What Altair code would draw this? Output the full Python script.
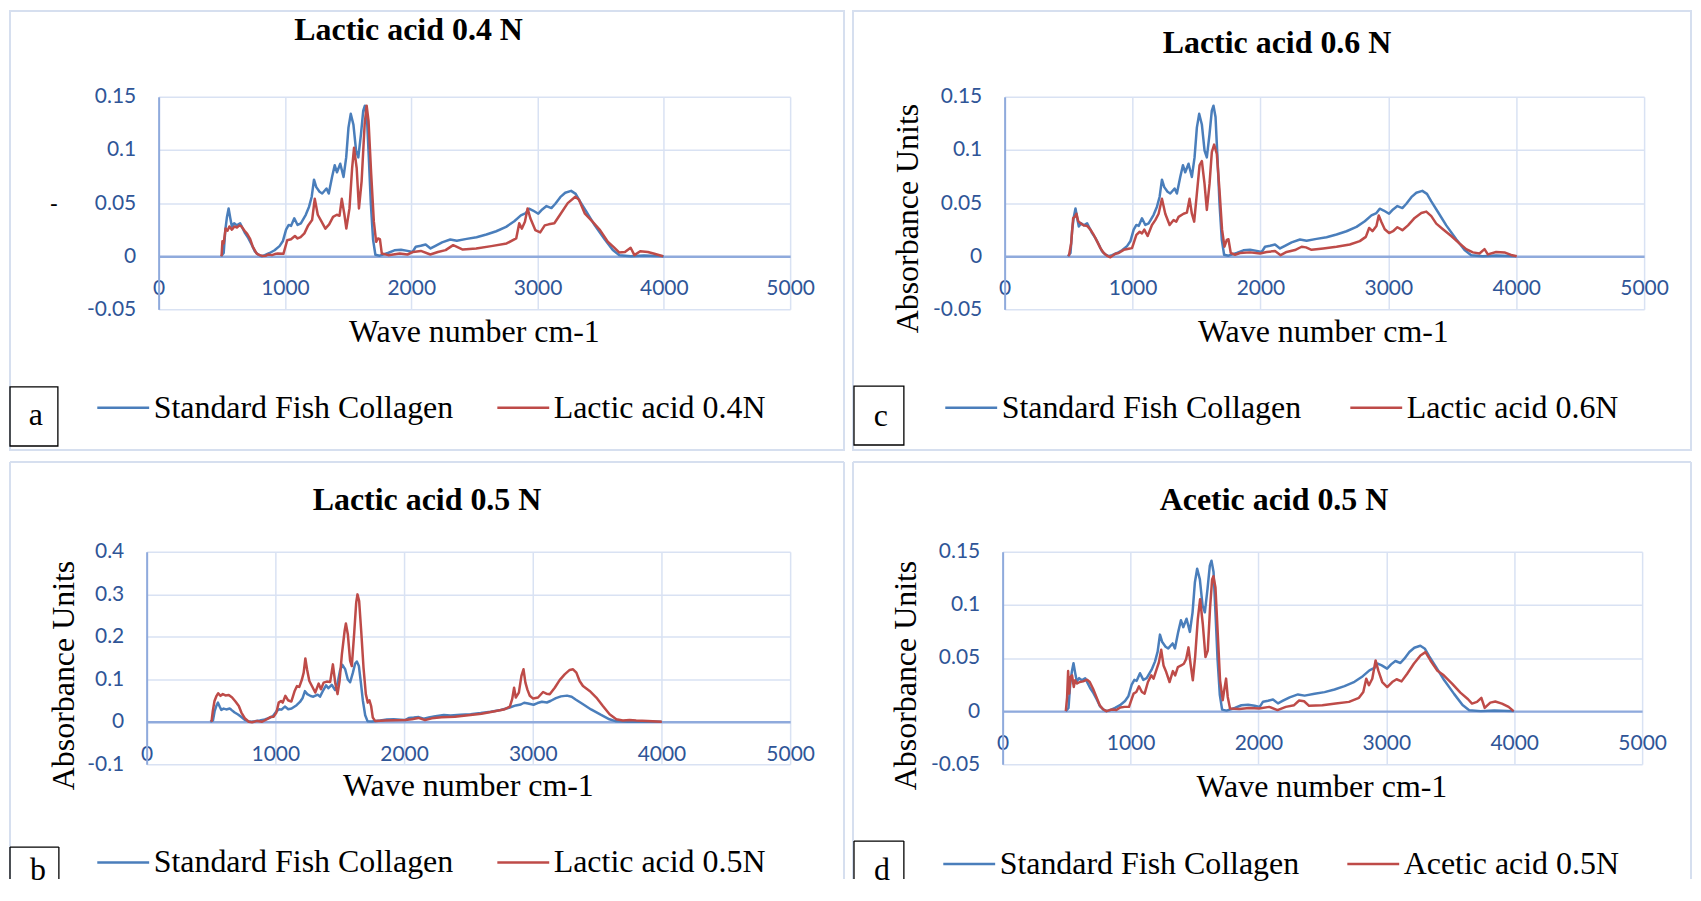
import altair as alt
import pandas as pd

# ---------------- data ----------------
STD_LABEL = "Standard Fish Collagen"

STD_WN = [494, 515, 528, 541, 554, 567, 580, 598, 619, 645,
          658, 684, 710, 736, 762, 788, 814, 840, 879, 918,
          957, 983, 1009, 1030, 1048, 1074, 1100, 1126, 1165, 1191,
          1212, 1230, 1248, 1274, 1295, 1329, 1347, 1373, 1394, 1412,
          1438, 1464, 1485, 1503, 1521, 1542, 1563, 1581, 1602, 1620,
          1633, 1649, 1664, 1680, 1698, 1716, 1750, 1815, 1867, 1919,
          1971, 2010, 2036, 2075, 2114, 2153, 2192, 2244, 2309, 2361,
          2439, 2517, 2595, 2673, 2751, 2816, 2868, 2907, 2933, 2964,
          3006, 3037, 3071, 3110, 3141, 3180, 3219, 3266, 3302, 3336,
          3388, 3453, 3531, 3596, 3648, 3739, 3843, 3999]
STD_AB = [0.0, 0.003, 0.0248, 0.037, 0.045, 0.036, 0.028, 0.031, 0.029, 0.031,
          0.028, 0.0217, 0.017, 0.011, 0.0045, 0.0014, 0.0, 0.001, 0.003, 0.0056,
          0.0095, 0.014, 0.025, 0.0294, 0.0285, 0.0357, 0.0294, 0.031, 0.039, 0.0466,
          0.056, 0.072, 0.065, 0.0606, 0.059, 0.0637, 0.059, 0.0746, 0.0856, 0.079,
          0.087, 0.0746, 0.093, 0.121, 0.134, 0.124, 0.0995, 0.093, 0.115, 0.137,
          0.1416, 0.131, 0.093, 0.0497, 0.0154, 0.0014, 0.0005, 0.003, 0.0055, 0.006,
          0.005, 0.004, 0.0089, 0.0098, 0.011, 0.0073, 0.0098, 0.013, 0.0157, 0.0146,
          0.0163, 0.0179, 0.0204, 0.0235, 0.0276, 0.0329, 0.0384, 0.0406, 0.0447, 0.043,
          0.040, 0.044, 0.0472, 0.0453, 0.0494, 0.0556, 0.0597, 0.0615, 0.0587, 0.0516,
          0.0416, 0.029, 0.016, 0.0058, 0.0009, 0.0, 0.0006, 0.0]

# Lactic acid 0.4N (panel a)
RA_WN = [498, 505, 515, 530, 545, 560, 580, 600, 620, 640,
         656, 680, 701, 725, 746, 776, 800, 822, 850, 867,
         897, 920, 943, 988, 1018, 1048, 1079, 1100, 1124, 1154,
         1184, 1215, 1236, 1260, 1290, 1320, 1350, 1381, 1411, 1432,
         1450, 1471, 1486, 1511, 1532, 1547, 1568, 1586, 1607, 1631,
         1647, 1662, 1683, 1704, 1722, 1737, 1752, 1767, 1819, 1909,
         1970, 2015, 2076, 2151, 2211, 2272, 2332, 2362, 2408, 2514,
         2634, 2755, 2831, 2855, 2876, 2900, 2921, 2943, 2982, 3021,
         3057, 3088, 3133, 3178, 3239, 3299, 3329, 3375, 3435, 3495,
         3556, 3601, 3646, 3692, 3737, 3767, 3813, 3873, 3918, 3994]
RA_AB = [0.0, 0.014, 0.012, 0.026, 0.024, 0.028, 0.025, 0.028, 0.027, 0.029,
         0.028, 0.024, 0.021, 0.016, 0.0088, 0.0025, 0.001, 0.0003, 0.0005, 0.0016,
         0.001, 0.002, 0.0025, 0.0022, 0.015, 0.016, 0.019, 0.0167, 0.018, 0.0215,
         0.029, 0.034, 0.054, 0.039, 0.0325, 0.026, 0.030, 0.037, 0.039, 0.038,
         0.054, 0.039, 0.026, 0.045, 0.083, 0.102, 0.083, 0.045, 0.0705, 0.124,
         0.1416, 0.127, 0.077, 0.0325, 0.0136, 0.0167, 0.016, 0.0025, 0.001, 0.0025,
         0.0016, 0.004, 0.005, 0.0016, 0.004, 0.0057, 0.0104, 0.0088, 0.0063, 0.0073,
         0.0095, 0.012, 0.0167, 0.031, 0.026, 0.0325, 0.045, 0.0357, 0.0246, 0.0224,
         0.029, 0.030, 0.031, 0.039, 0.050, 0.056, 0.053, 0.040, 0.0325, 0.0246,
         0.0136, 0.0088, 0.0035, 0.004, 0.008, 0.001, 0.0047, 0.004, 0.0025, 0.0]

# Lactic acid 0.6N (panel c)
RC_WN = [502, 520, 536, 549, 562, 575, 593, 619, 645, 671,
         697, 723, 749, 775, 806, 827, 866, 892, 931, 970,
         996, 1030, 1056, 1074, 1092, 1118, 1152, 1178, 1204, 1230,
         1256, 1290, 1321, 1342, 1360, 1399, 1425, 1446, 1464, 1482,
         1503, 1524, 1542, 1563, 1581, 1602, 1620, 1638, 1659, 1680,
         1700, 1719, 1737, 1750, 1768, 1802, 1841, 1919, 1997, 2049,
         2114, 2158, 2205, 2270, 2322, 2356, 2400, 2491, 2595, 2699,
         2777, 2824, 2850, 2876, 2907, 2925, 2946, 2972, 3006, 3037,
         3071, 3110, 3154, 3206, 3258, 3297, 3336, 3375, 3427, 3492,
         3557, 3609, 3661, 3713, 3752, 3778, 3843, 3908, 3960, 4004]
RC_AB = [0.0, 0.012, 0.036, 0.037, 0.040, 0.033, 0.031, 0.029, 0.0285, 0.025,
         0.020, 0.014, 0.0076, 0.003, 0.0, -0.001, 0.0023, 0.003, 0.006, 0.007,
         0.0076, 0.020, 0.023, 0.0215, 0.025, 0.019, 0.0294, 0.034, 0.040, 0.054,
         0.040, 0.0294, 0.034, 0.0325, 0.037, 0.040, 0.041, 0.054, 0.040, 0.0325,
         0.059, 0.0856, 0.0896, 0.068, 0.0435, 0.068, 0.098, 0.105, 0.0964, 0.062,
         0.025, 0.009, 0.0154, 0.016, 0.003, 0.0014, 0.003, 0.0036, 0.0026, 0.004,
         0.0048, 0.001, 0.004, 0.0058, 0.0089, 0.0083, 0.006, 0.0073, 0.0089, 0.011,
         0.0142, 0.0182, 0.0266, 0.0235, 0.0285, 0.0384, 0.0322, 0.0254, 0.0218, 0.0235,
         0.0273, 0.0245, 0.029, 0.036, 0.0406, 0.042, 0.0377, 0.0307, 0.0254, 0.019,
         0.012, 0.0067, 0.0036, 0.0026, 0.0067, 0.0017, 0.004, 0.0036, 0.0012, 0.0]

# Lactic acid 0.5N (panel b)
RB_WN = [504, 514, 527, 543, 556, 574, 592, 612, 638, 664,
         690, 716, 736, 762, 793, 819, 858, 897, 935, 961,
         987, 1008, 1026, 1044, 1057, 1078, 1098, 1124, 1150, 1168,
         1186, 1207, 1220, 1233, 1246, 1264, 1284, 1310, 1336, 1354,
         1375, 1400, 1426, 1447, 1465, 1483, 1499, 1517, 1538, 1548,
         1563, 1581, 1594, 1612, 1628, 1638, 1651, 1667, 1685, 1703,
         1718, 1731, 1744, 1757, 1775, 1853, 1930, 2008, 2060, 2111,
         2163, 2215, 2292, 2395, 2499, 2602, 2705, 2783, 2822, 2840,
         2855, 2868, 2892, 2912, 2928, 2943, 2959, 2977, 3003, 3041,
         3080, 3106, 3132, 3171, 3209, 3248, 3287, 3313, 3339, 3364,
         3390, 3442, 3494, 3545, 3597, 3649, 3700, 3752, 3804, 3894,
         4003]
RB_AB = [0.0, 0.0255, 0.049, 0.061, 0.067, 0.061, 0.065, 0.062, 0.063, 0.057,
         0.0475, 0.037, 0.0216, 0.0083, 0.0, -0.001, 0.002, 0.0, 0.006, 0.011,
         0.012, 0.0216, 0.045, 0.049, 0.045, 0.061, 0.0506, 0.0475, 0.0725, 0.084,
         0.082, 0.100, 0.1156, 0.149, 0.1235, 0.096, 0.084, 0.0687, 0.0898, 0.0765,
         0.092, 0.0945, 0.0937, 0.135, 0.092, 0.065, 0.096, 0.159, 0.2135, 0.231,
         0.206, 0.143, 0.131, 0.206, 0.280, 0.2997, 0.284, 0.2135, 0.127, 0.065,
         0.045, 0.0506, 0.037, 0.0099, 0.002, 0.003, 0.0035, 0.004, 0.006, 0.009,
         0.004, 0.008, 0.0106, 0.012, 0.0154, 0.019, 0.0247, 0.0295, 0.0357, 0.053,
         0.080, 0.057, 0.0686, 0.108, 0.1235, 0.092, 0.075, 0.061, 0.0545, 0.057,
         0.070, 0.066, 0.0647, 0.080, 0.098, 0.1116, 0.122, 0.1235, 0.1156, 0.096,
         0.084, 0.0725, 0.057, 0.037, 0.0177, 0.006, 0.003, 0.004, 0.003, 0.002,
         0.0]

# Acetic acid 0.5N (panel d)
RD_WN = [494, 504, 512, 520, 530, 543, 556, 567, 582, 603,
         629, 660, 681, 707, 733, 759, 785, 811, 837, 863,
         889, 920, 954, 988, 1006, 1024, 1045, 1066, 1089, 1110,
         1136, 1162, 1180, 1201, 1222, 1240, 1258, 1279, 1305, 1331,
         1349, 1370, 1396, 1417, 1435, 1453, 1469, 1487, 1505, 1526,
         1544, 1565, 1586, 1604, 1622, 1638, 1648, 1664, 1682, 1700,
         1721, 1734, 1747, 1760, 1778, 1850, 1928, 2006, 2084, 2149,
         2214, 2279, 2318, 2357, 2396, 2500, 2604, 2708, 2786, 2820,
         2843, 2864, 2890, 2916, 2937, 2968, 3007, 3046, 3080, 3119,
         3163, 3215, 3267, 3306, 3345, 3397, 3449, 3514, 3579, 3639,
         3670, 3709, 3743, 3769, 3813, 3852, 3904, 3956, 3995]
RD_AB = [0.0, 0.013, 0.0377, 0.0165, 0.032, 0.0337, 0.0228, 0.029, 0.026, 0.0274,
         0.028, 0.0296, 0.0274, 0.021, 0.0134, 0.0056, 0.0018, 0.0, 0.001, 0.0015,
         0.001, 0.0034, 0.004, 0.004, 0.0103, 0.0165, 0.018, 0.0234, 0.018, 0.0165,
         0.0274, 0.0337, 0.0306, 0.0384, 0.046, 0.0577, 0.043, 0.0368, 0.0274, 0.0377,
         0.0337, 0.0415, 0.043, 0.0446, 0.049, 0.060, 0.0446, 0.029, 0.0509, 0.0866,
         0.1054, 0.082, 0.0509, 0.057, 0.0976, 0.124, 0.127, 0.1164, 0.0727, 0.029,
         0.0103, 0.021, 0.0306, 0.0134, 0.0025, 0.002, 0.003, 0.0025, 0.004, 0.001,
         0.004, 0.0056, 0.010, 0.0093, 0.005, 0.0056, 0.0071, 0.0087, 0.0125, 0.018,
         0.0305, 0.0243, 0.0305, 0.0477, 0.0383, 0.0274, 0.0227, 0.0274, 0.030, 0.028,
         0.0352, 0.0446, 0.0524, 0.0555, 0.0477, 0.0383, 0.0337, 0.0259, 0.0174, 0.0112,
         0.0071, 0.0087, 0.0125, 0.003, 0.008, 0.009, 0.0071, 0.004, 0.0]

X_TICKS = [0, 1000, 2000, 3000, 4000, 5000]
Y_TICKS_SMALL = [-0.05, 0, 0.05, 0.1, 0.15]
Y_TICKS_LARGE = [-0.1, 0, 0.1, 0.2, 0.3, 0.4]

for a_, b_ in [(STD_WN, STD_AB), (RA_WN, RA_AB), (RC_WN, RC_AB), (RB_WN, RB_AB), (RD_WN, RD_AB)]:
    assert len(a_) == len(b_)

# ---------------- styles ----------------
BLUE = "#4A7EBB"
RED = "#BE4B48"
GRID = "#D9E2F3"
AXIS_LINE = "#8FAADC"
BORDER = "#D6DFEF"
TICK_TXT = "#2F5597"
SERIF = "Liberation Serif"
SANS = "Lato"

# Geometry is relative to each panel's plot area (its top-left corner).
# "shift": the plot area of panel a starts 12 px right of the column origin it
# shares with panel b, so its view is widened and the x range starts at 12 px.
PANELS = {
    "a": dict(title="Lactic acid 0.4 N", label="Lactic acid 0.4N", wn=RA_WN, ab=RA_AB,
              w=633, h=213, shift=12, ydom=(-0.05, 0.15), yt=Y_TICKS_SMALL,
              border=(-149, 687, -86, 354), closed=True,
              box=(-149, -101, 290.7, 350), letter="a", lxy=(-123, 329),
              txy=(250.5, -57), ytitle="-", ytxy=(-105.5, 106), xtxy=(316, 85.5),
              leg=(-63, 284, 38, 3)),
    "c": dict(title="Lactic acid 0.6 N", label="Lactic acid 0.6N", wn=RC_WN, ab=RC_AB,
              w=641, h=213, shift=0, ydom=(-0.05, 0.15), yt=Y_TICKS_SMALL,
              border=(-152, 688, -86, 354), closed=True,
              box=(-151, -101, 290, 349), letter="c", lxy=(-124, 330),
              txy=(273, -43.5), ytitle="Absorbance Units", ytxy=(-87, 121.5), xtxy=(319, 85.5),
              leg=(-61, 284, 43, 3)),
    "b": dict(title="Lactic acid 0.5 N", label="Lactic acid 0.5N", wn=RB_WN, ab=RB_AB,
              w=645, h=213, shift=0, ydom=(-0.1, 0.4), yt=Y_TICKS_LARGE,
              border=(-137, 699, -90, 328), closed=False,
              box=(-137, -88, 296, 328), letter="b", lxy=(-109, 329),
              txy=(281, -42), ytitle="Absorbance Units", ytxy=(-73.5, 123.5), xtxy=(322, 74),
              leg=(-51, 283.7, 38, 3)),
    "d": dict(title="Acetic acid 0.5 N", label="Acetic acid 0.5N", wn=RD_WN, ab=RD_AB,
              w=641, h=213, shift=0, ydom=(-0.05, 0.15), yt=Y_TICKS_SMALL,
              border=(-150, 690, -90, 328), closed=False,
              box=(-149, -99, 290, 328), letter="d", lxy=(-121, 329),
              txy=(272, -42), ytitle="Absorbance Units", ytxy=(-87, 123.5), xtxy=(319.5, 85.5),
              leg=(-61, 285.3, 42, 3)),
}

Y_LABEL_EXPR = "datum.value < 0 ? '-' + format(-datum.value, '~g') : format(datum.value, '~g')"


def frame(df, x1, x2, y1, y2, closed, color, width):
    """Rectangle outline (closed) or open-bottom outline drawn with rules."""
    if closed:
        return [alt.Chart(df).mark_rect(filled=False, stroke=color, strokeWidth=width).encode(
            x=alt.value(x1), x2=alt.value(x2), y=alt.value(y1), y2=alt.value(y2))]
    rule = dict(color=color, strokeWidth=width)
    return [
        alt.Chart(df).mark_rule(**rule).encode(x=alt.value(x1), x2=alt.value(x2), y=alt.value(y1)),
        alt.Chart(df).mark_rule(**rule).encode(x=alt.value(x1), y=alt.value(y1), y2=alt.value(y2)),
        alt.Chart(df).mark_rule(**rule).encode(x=alt.value(x2), y=alt.value(y1), y2=alt.value(y2)),
    ]


def make_panel(key):
    p = PANELS[key]
    s = p["shift"]
    rows = [{"wn": w, "ab": v, "series": STD_LABEL} for w, v in zip(STD_WN, STD_AB)]
    rows += [{"wn": w, "ab": v, "series": p["label"]} for w, v in zip(p["wn"], p["ab"])]
    df = pd.DataFrame(rows)
    W, H = p["w"] + s, p["h"]
    ymin, ymax = p["ydom"]
    zero_px = H * ymax / (ymax - ymin)
    x_off = -(H - zero_px)

    is_dash = p["ytitle"] == "-"
    y_axis = alt.Axis(
        values=p["yt"], labelExpr=Y_LABEL_EXPR, grid=True, gridColor=GRID, gridWidth=1.5,
        domain=True, domainColor=AXIS_LINE, domainWidth=2, ticks=False, tickSize=0,
        labelFont=SANS, labelFontSize=21, labelColor=TICK_TXT, labelPadding=23,
        labelOverlap=False, labelFlush=False, offset=-s,
        title=p["ytitle"], titleFont=SERIF, titleFontSize=22 if is_dash else 32,
        titleFontWeight="bold" if is_dash else "normal", titleColor="#000",
        titleAngle=0 if is_dash else 270, titleX=p["ytxy"][0], titleY=p["ytxy"][1],
        titleAlign="center", titleBaseline="middle" if is_dash else "alphabetic",
    )
    x_axis = alt.Axis(
        values=X_TICKS, format="d", grid=True, gridColor=GRID, gridWidth=1.5,
        domain=True, domainColor=AXIS_LINE, domainWidth=2.5, ticks=False, tickSize=0,
        labelFont=SANS, labelFontSize=21, labelColor=TICK_TXT, labelPadding=21.5,
        labelOverlap=False, labelFlush=False, offset=x_off,
        title="Wave number cm-1", titleFont=SERIF, titleFontSize=32, titleFontWeight="normal",
        titleColor="#000", titleX=p["xtxy"][0] + s, titleY=p["xtxy"][1],
        titleAlign="center", titleBaseline="alphabetic",
    )
    lx, ly, cp, lo = p["leg"]
    legend = alt.Legend(
        orient="none", legendX=lx + s, legendY=ly, direction="horizontal", columns=2, title=None,
        symbolType="stroke", symbolSize=2704, symbolStrokeWidth=2.5,
        labelFont=SERIF, labelFontSize=32, labelColor="#000", labelOffset=lo,
        columnPadding=cp, padding=0, rowPadding=0, labelLimit=600,
    )
    x_scale = alt.Scale(domain=[0, 5000], nice=False, zero=False, range=[s, W])
    lines = alt.Chart(df).mark_line(strokeWidth=2.5, strokeJoin="round").encode(
        x=alt.X("wn:Q", scale=x_scale, axis=x_axis),
        y=alt.Y("ab:Q", scale=alt.Scale(domain=[ymin, ymax], nice=False, zero=False), axis=y_axis),
        color=alt.Color("series:N", scale=alt.Scale(domain=[STD_LABEL, p["label"]], range=[BLUE, RED]),
                        legend=legend),
    )
    deco = pd.DataFrame([{"title": p["title"], "letter": p["letter"]}])
    bx1, bx2, by1, by2 = p["border"]
    border = frame(deco, bx1 + s, bx2 + s, by1, by2, p["closed"], BORDER, 2)
    kx1, kx2, ky1, ky2 = p["box"]
    box = frame(deco, kx1 + s, kx2 + s, ky1, ky2, p["closed"], "#000", 1.3)
    letter = alt.Chart(deco).mark_text(font=SERIF, fontSize=32, align="center", baseline="alphabetic",
                                       color="#000").encode(
        x=alt.value(p["lxy"][0] + s), y=alt.value(p["lxy"][1]), text="letter:N")
    title = alt.Chart(deco).mark_text(font=SERIF, fontSize=32, fontWeight="bold", align="center",
                                      baseline="alphabetic", color="#000").encode(
        x=alt.value(p["txy"][0] + s), y=alt.value(p["txy"][1]), text="title:N")
    return alt.layer(*border, lines, *box, letter, title).properties(width=W, height=H)


chart = alt.concat(
    make_panel("a"), make_panel("c"), make_panel("b"), make_panel("d"),
    columns=2, align="none", bounds="full", spacing={"row": 8, "column": 5},
).resolve_scale(
    x="independent", y="independent", color="independent"
).resolve_legend(color="independent").properties(
    padding=0, background="white"
).configure_view(stroke="transparent")

chart.save("out.html", embed_options={"renderer": "svg", "actions": False})
